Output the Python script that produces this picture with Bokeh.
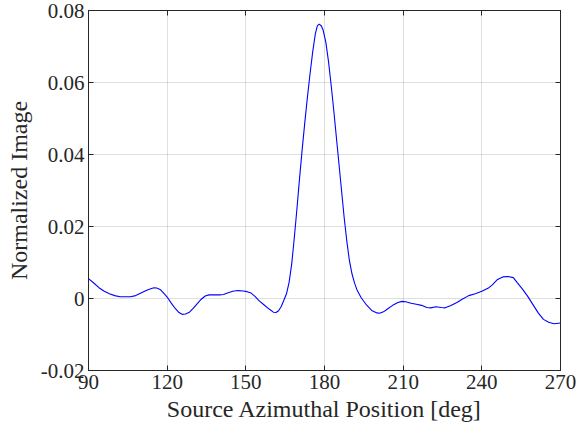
from bokeh.plotting import figure
from bokeh.models import Range1d, FixedTicker, LinearAxis
from bokeh.embed import file_html
from bokeh.resources import INLINE

azimuth_deg = [90, 92, 94, 96, 98, 100, 102, 104, 106, 108, 110, 112, 114, 115, 116, 117.5, 119, 120,
               121.5, 123, 124.5, 125.7, 127, 128.5, 130, 131.5, 133, 134.5, 136, 138, 140, 141.5, 143,
               145, 147, 149, 150.5, 152, 153.5, 155, 157, 159, 160.5, 161.5, 162.5, 163.5, 164.5,
               165.5, 166.5, 167.5, 168.5, 169.5, 170.5, 171.5, 172.5, 173.5, 174.5, 175.5, 176.5,
               177.3, 178, 178.8, 179.5, 180.5, 181.5, 182.5, 183.5, 184.5, 185.5, 186.5, 187.5,
               188.5, 189.5, 190.5, 191.5, 192.5, 194, 196, 198, 200, 201, 202.5, 204, 206, 208,
               209.6, 211, 213, 215, 217, 219, 220.5, 222.5, 224.5, 226, 228, 230.5, 232.5, 235,
               237.5, 240, 242.5, 244, 246, 248, 250, 252, 253.5, 255.5, 257.5, 259.5, 261.5, 263.5,
               265.5, 267.5, 270]
normalized_image = [0.0055, 0.0043, 0.0030, 0.0020, 0.0013, 0.0008, 0.0005, 0.0005, 0.0005, 0.0008,
                    0.0015, 0.0022, 0.0028, 0.0030, 0.0029, 0.0024, 0.0012, 0.0004,
                    -0.0012, -0.0027, -0.0039, -0.0044, -0.0043, -0.0038, -0.0027, -0.0014, -0.0002,
                    0.0007, 0.0010, 0.0010, 0.0010, 0.0011, 0.0015,
                    0.0020, 0.0022, 0.0021, 0.0019, 0.0015, 0.0006, -0.0006, -0.0018, -0.0030,
                    -0.0038, -0.0039, -0.0034, -0.0022, -0.0005,
                    0.0013, 0.0045, 0.0096, 0.0170, 0.0250, 0.0335, 0.0415, 0.0490, 0.0560, 0.0625,
                    0.0685, 0.0735,
                    0.0758, 0.0762, 0.0757, 0.0745, 0.0712, 0.0660, 0.0595, 0.0525, 0.0450, 0.0375,
                    0.0300, 0.0225,
                    0.0160, 0.0105, 0.0068, 0.0042, 0.0022, 0.0002, -0.0018, -0.0033, -0.0040,
                    -0.0041, -0.0037, -0.0029, -0.0019, -0.0011,
                    -0.0008, -0.0009, -0.0013, -0.0016, -0.0019, -0.0025, -0.0026, -0.0023, -0.0025,
                    -0.0026, -0.0020, -0.0011, -0.0002, 0.0008,
                    0.0013, 0.0020, 0.0029, 0.0038, 0.0053, 0.0060, 0.0061, 0.0058, 0.0044, 0.0026,
                    0.0006, -0.0017, -0.0040, -0.0058,
                    -0.0066, -0.0070, -0.0068]

x_ticks = [90, 120, 150, 180, 210, 240, 270]
x_tick_labels = ["90", "120", "150", "180", "210", "240", "270"]
y_ticks = [-0.02, 0.0, 0.02, 0.04, 0.06, 0.08]
y_tick_labels = ["-0.02", "0", "0.02", "0.04", "0.06", "0.08"]

FONT = "Liberation Serif"
AX = "#262626"

p = figure(width=576, height=431, output_backend="svg", toolbar_location=None,
           x_range=Range1d(90, 270), y_range=Range1d(-0.02, 0.08),
           min_border_left=88, min_border_right=16, min_border_top=10, min_border_bottom=61)

p.line(azimuth_deg, normalized_image, line_color="#0000ff", line_width=1.1)

p.xaxis.ticker = FixedTicker(ticks=x_ticks)
p.yaxis.ticker = FixedTicker(ticks=y_ticks)
p.xaxis.major_label_overrides = {t: l for t, l in zip(x_ticks, x_tick_labels)}
p.yaxis.major_label_overrides = {t: l for t, l in zip(y_ticks, y_tick_labels)}

for ax in (p.xaxis[0], p.yaxis[0]):
    ax.axis_line_color = AX
    ax.major_tick_line_color = AX
    ax.major_tick_in = 5
    ax.major_tick_out = 0
    ax.minor_tick_line_color = None
    ax.major_label_text_font = FONT
    ax.major_label_text_font_size = "21px"
    ax.major_label_text_color = AX
    ax.axis_label_text_font = FONT
    ax.axis_label_text_font_size = "24px"
    ax.axis_label_text_font_style = "normal"
    ax.axis_label_text_color = AX
    ax.major_label_standoff = 4

p.xaxis.axis_label = "Source Azimuthal Position [deg]"
p.yaxis.axis_label = "Normalized Image"
p.xaxis.axis_label_standoff = 4
p.yaxis.axis_label_standoff = 6

for loc, tk in (("right", y_ticks), ("above", x_ticks)):
    a = LinearAxis(ticker=FixedTicker(ticks=tk), axis_line_color=AX, major_tick_line_color=AX,
                   major_tick_in=5, major_tick_out=0, minor_tick_line_color=None,
                   major_label_overrides={t: "" for t in tk}, major_label_standoff=0)
    p.add_layout(a, loc)

p.grid.grid_line_color = AX
p.grid.grid_line_alpha = 0.15
p.outline_line_color = AX
p.outline_line_alpha = 1.0
p.background_fill_color = "white"
p.border_fill_color = "white"

open("out.html", "w").write(file_html(p, INLINE))
